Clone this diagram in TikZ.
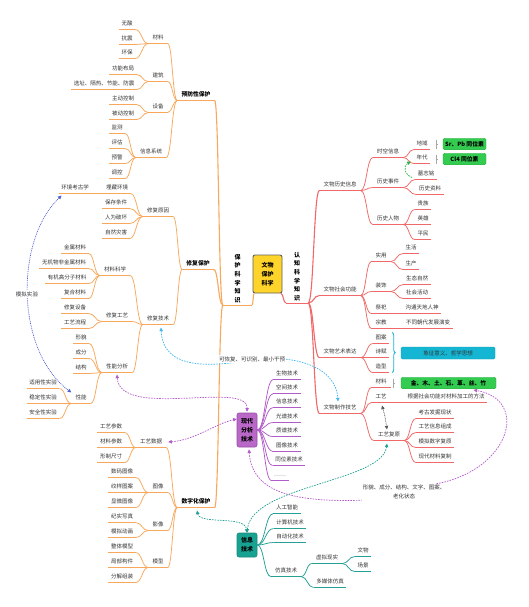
\documentclass[tikz,border=0pt]{standalone}
\usepackage{fontspec}
\setmainfont{Noto Sans CJK SC}
\usetikzlibrary{arrows.meta,calc,decorations.pathreplacing}
\newcommand\fsn{\fontsize{5.5pt}{6.5pt}\selectfont}
\newcommand\fsb{\fontsize{5.8pt}{7pt}\selectfont\bfseries}
\newcommand\fsv{\fontsize{6pt}{8.6pt}\selectfont\bfseries}
\newcommand\lk[3]{\draw[#1] let \p1=(#2), \p2=(#3) in (\p1) .. controls ({0.5*\x1+0.5*\x2},\y1) and ({0.5*\x1+0.5*\x2},\y2) .. (\p2);}
\definecolor{oc}{RGB}{248,168,92}
\definecolor{rc}{RGB}{240,104,104}
\definecolor{pc}{RGB}{178,92,200}
\definecolor{pfill}{RGB}{186,104,200}
\definecolor{tc}{RGB}{36,160,148}
\definecolor{tfill}{RGB}{24,162,146}
\definecolor{gfill}{RGB}{52,204,80}
\definecolor{cfill}{RGB}{20,182,212}
\definecolor{yfill}{RGB}{255,212,42}
\definecolor{txt}{RGB}{51,51,51}
\definecolor{ic}{RGB}{80,96,208}
\definecolor{lb}{RGB}{64,184,240}
\definecolor{gc}{RGB}{40,180,70}
\definecolor{graytwo}{RGB}{90,90,90}
\begin{document}
\begin{tikzpicture}[x=1pt,y=-1pt,
  t/.style={font=\fsn,text=txt,inner xsep=2.5pt,inner ysep=2.6pt,text height=4.6pt,text depth=0.9pt},
  ol/.style={draw=oc,line width=0.75pt},
  rl/.style={draw=rc,line width=0.75pt},
  pl/.style={draw=pc,line width=0.75pt},
  tl/.style={draw=tc,line width=0.75pt},
  uo/.style={append after command={(\tikzlastnode.south west) edge[ol] (\tikzlastnode.south east)}},
  ur/.style={append after command={(\tikzlastnode.south west) edge[rl] (\tikzlastnode.south east)}},
  up/.style={append after command={(\tikzlastnode.south west) edge[pl] (\tikzlastnode.south east)}},
  ut/.style={append after command={(\tikzlastnode.south west) edge[tl] (\tikzlastnode.south east)}},
  O/.style={t,uo}, OB/.style={t,inner xsep=4pt,uo}, OH/.style={t,font=\fsb,text=black,inner xsep=4pt,uo},
  R/.style={t,ur}, RB/.style={t,inner xsep=4pt,ur},
  PL/.style={t,up}, TL/.style={t,ut}, TB/.style={t,inner xsep=4pt,ut},
  vt/.style={font=\fsv,text=black,align=center,inner xsep=3pt,inner ysep=2pt},
  tbox/.style={font=\fontsize{6pt}{9pt}\selectfont\bfseries,text=black,align=center,rounded corners=2pt,inner sep=0pt,line width=0.6pt},
  gbox/.style={fill=gfill,draw=gfill!85!black,rounded corners=1.5pt,font=\fsb,text=black,inner sep=0pt,minimum height=11.5pt},
  lab/.style={font=\fsn,text=txt,inner sep=1pt},
  rel/.style={line width=0.7pt,dash pattern=on 1.6pt off 1.1pt,>={Triangle[length=3.6pt,width=3.4pt]}},
  brk/.style={draw=gray!70,line width=0.6pt}
]
\fill[white] (0,0) rectangle (528,607);
\useasboundingbox (0,0) rectangle (528,607);

% ---------- root and trunks ----------
\node[tbox,fill=yfill,draw=gray!75!black,line width=0.9pt,minimum width=29pt,minimum height=38pt] (RT) at (267.5,274) {文物\\保护\\科学};
\node[vt,uo,minimum width=29pt,anchor=south] (L) at (237.5,305) {保\\护\\科\\学\\知\\识};
\node[vt,ur,minimum width=22pt,anchor=south] (K) at (297,303) {认\\知\\科\\学\\知\\识};

% ---------- preventive ----------
\node[OH] (P1) at (196,95) {预防性保护};
\node[OB] (a1) at (158,38) {材料};
\node[O] (a11) at (127,24) {无酸};
\node[O] (a12) at (127,39) {抗震};
\node[O] (a13) at (127,53) {环保};
\node[OB] (a2) at (158,76) {建筑};
\node[O] (a21) at (123,69) {功能布局};
\node[O] (a22) at (104,84) {选址、隔热、节能、防震};
\node[OB] (a3) at (158,107) {设备};
\node[O] (a31) at (123,99) {主动控制};
\node[O] (a32) at (123,114) {被动控制};
\node[OB] (a4) at (151,152) {信息系统};
\node[O] (a41) at (117,128) {监测};
\node[O] (a42) at (117,143) {评估};
\node[O] (a43) at (117,158) {预警};
\node[O] (a44) at (117,173) {调控};

% ---------- restoration ----------
\node[OH] (P2) at (198,264) {修复保护};
\node[OB] (b1) at (158,211) {修复原因};
\node[O] (b11) at (117,188) {埋藏环境};
\node[O] (b111) at (75,188) {环境考古学};
\node[O] (b12) at (116,203) {保存条件};
\node[O] (b13) at (116,218) {人为破坏};
\node[O] (b14) at (116,233) {自然灾害};
\node[OB] (b2) at (158,319) {修复技术};
\node[OB] (b21) at (115,270) {材料科学};
\node[O] (b211) at (75,248) {金属材料};
\node[O] (b212) at (64,263) {无机物非金属材料};
\node[O] (b213) at (67,278) {有机高分子材料};
\node[O] (b214) at (75,293) {复合材料};
\node[OB] (b22) at (117,316) {修复工艺};
\node[O] (b221) at (75,308) {修复设备};
\node[O] (b222) at (75,323) {工艺流程};
\node[OB] (b23) at (117,367) {性能分析};
\node[O] (b231) at (81,338) {形貌};
\node[O] (b232) at (81,353) {成分};
\node[O] (b233) at (81,368) {结构};
\node[OB] (b234) at (81,398) {性能};
\node[O] (b2341) at (43,383) {适用性实验};
\node[O] (b2342) at (43,398) {稳定性实验};
\node[O] (b2343) at (43,413) {安全性实验};

% ---------- digital ----------
\node[OH] (P3) at (196,502) {数字化保护};
\node[OB] (c1) at (151,442) {工艺数据};
\node[O] (c11) at (111,427) {工艺参数};
\node[O] (c12) at (111,442) {材料参数};
\node[O] (c13) at (111,457) {形制尺寸};
\node[OB] (c2) at (158,487) {图像};
\node[O] (c21) at (122,472) {数码图像};
\node[O] (c22) at (122,487) {纹样图案};
\node[O] (c23) at (122,502) {显微图像};
\node[OB] (c3) at (158,525) {影像};
\node[O] (c31) at (122,517) {纪实写真};
\node[O] (c32) at (122,532) {模拟动画};
\node[OB] (c4) at (158,562) {模型};
\node[O] (c41) at (122,547) {整体模型};
\node[O] (c42) at (122,562) {局部构件};
\node[O] (c43) at (122,577) {分解组装};

% ---------- right side ----------
\node[RB] (d1) at (340,185) {文物历史信息};
\node[RB] (e1) at (388,152) {时空信息};
\node[R] (f1) at (422,144) {地域};
\node[R] (f2) at (422,158) {年代};
\node[RB] (e2) at (388,182) {历史事件};
\node[R] (f3) at (426,174) {墓志铭};
\node[R] (f4) at (430,189) {历史资料};
\node[RB] (e3) at (388,219) {历史人物};
\node[R] (f5) at (423,204) {贵族};
\node[R] (f6) at (423,219) {英雄};
\node[R] (f7) at (423,234) {平民};
\node[RB] (d2) at (340,290) {文物社会功能};
\node[RB] (e4) at (381,256) {实用};
\node[R] (f8) at (411,248) {生活};
\node[R] (f9) at (411,264) {生产};
\node[RB] (e5) at (381,286) {装饰};
\node[R] (f10) at (417,279) {生态自然};
\node[R] (f11) at (417,293) {社会活动};
\node[RB] (e6) at (381,308) {祭祀};
\node[R] (f12) at (422,308) {沟通天地人神};
\node[RB] (e7) at (381,323) {宗教};
\node[R] (f13) at (428,323) {不同朝代发展演变};
\node[RB] (d3) at (340,352) {文物艺术表达};
\node[R] (e8) at (381,338) {图案};
\node[R] (e9) at (381,352) {诗赋};
\node[R] (e10) at (381,367) {造型};
\node[RB] (d4) at (340,408) {文物制作技艺};
\node[RB] (e11) at (381,382) {材料};
\node[RB] (e12) at (381,397) {工艺};
\node[R] (f14) at (446,397) {根据社会功能对材料加工的方法};
\node[RB] (e13) at (389,435) {工艺复原};
\node[R] (f15) at (435,413) {考古发掘现状};
\node[R] (f16) at (435,427) {工艺信息组成};
\node[R] (f17) at (435,442) {模拟数字复原};
\node[R] (f18) at (435,457) {现代材料复制};

\node[gbox,minimum width=43pt] (g1) at (464.5,144) {Sr、Pb 同位素};
\node[gbox,minimum width=43pt] (g2) at (464.5,159) {Cl4 同位素};
\node[gbox,minimum width=95pt] (g3) at (448.5,383) {金、木、土、石、革、丝、竹};
\node[gbox,fill=cfill,draw=cfill!85!black,font=\fsn,text=txt,minimum width=94pt,minimum height=12pt] (cy) at (448,353) {象征意义、哲学思想};
\foreach \bx in {g1,g2} {\draw[brk] ([shift={(-7,-4.5)}]\bx.west) -- ([shift={(-7,4.5)}]\bx.west) ([shift={(-7,0)}]\bx.west) -- ([shift={(-4.5,0)}]\bx.west);}
\draw[brk] ([shift={(-8,-4.5)}]g3.west) -- ([shift={(-8,4.5)}]g3.west) ([shift={(-8,0)}]g3.west) -- ([shift={(-5.5,0)}]g3.west);
\draw[draw=cfill,line width=0.8pt,decorate,decoration={brace,amplitude=3pt}] ([xshift=3pt]e8.north east) -- ([xshift=3pt]e10.south east);

% ---------- analysis / info boxes ----------
\node[tbox,fill=pfill,draw=pc!85!black,minimum width=20pt,minimum height=34pt] (M) at (247,430) {现代\\分析\\技术};
\node[PL] (m1) at (287,374) {生物技术};
\node[PL] (m2) at (287,388) {空间技术};
\node[PL] (m3) at (287,402) {信息技术};
\node[PL] (m4) at (287,417) {光谱技术};
\node[PL] (m5) at (287,431) {质谱技术};
\node[PL] (m6) at (287,446) {图像技术};
\node[PL] (m7) at (289,460) {同位素技术};
\node[PL] (m8) at (280,475) {……};
\node[tbox,fill=tfill,draw=tc!85!black,minimum width=20pt,minimum height=24pt] (I) at (247,545) {信息\\技术};
\node[TL] (i1) at (287,508) {人工智能};
\node[TL] (i2) at (290,523) {计算机技术};
\node[TL] (i3) at (290,537) {自动化技术};
\node[TB] (i4) at (286,571) {仿真技术};
\node[TB] (i41) at (327,558) {虚拟现实};
\node[TL] (i411) at (363,551) {文物};
\node[TL] (i412) at (363,566) {场景};
\node[TL] (i42) at (330,582) {多媒体仿真};

% ---------- branch lines ----------
\lk{ol,line width=1.1pt}{[xshift=1.5pt]RT.south west}{L.south east}
\lk{rl,line width=1.1pt}{[xshift=-1.5pt]RT.south east}{K.south west}
\foreach \cc in {P1,P2,P3} {\lk{ol,line width=1.1pt}{L.south west}{\cc.south east}}
\foreach \pp/\cc in {P1/a1,P1/a2,P1/a3,P1/a4,a1/a11,a1/a12,a1/a13,a2/a21,a2/a22,a3/a31,a3/a32,a4/a41,a4/a42,a4/a43,a4/a44,
  P2/b1,P2/b2,b1/b11,b1/b12,b1/b13,b1/b14,b11/b111,b2/b21,b2/b22,b2/b23,b21/b211,b21/b212,b21/b213,b21/b214,b22/b221,b22/b222,
  b23/b231,b23/b232,b23/b233,b23/b234,b234/b2341,b234/b2342,b234/b2343,
  P3/c1,P3/c2,P3/c3,P3/c4,c1/c11,c1/c12,c1/c13,c2/c21,c2/c22,c2/c23,c3/c31,c3/c32,c4/c41,c4/c42,c4/c43}
  {\lk{ol}{\pp.south west}{\cc.south east}}
\foreach \cc in {d1,d2,d3,d4} {\lk{rl,line width=1.1pt}{K.south east}{\cc.south west}}
\foreach \pp/\cc in {d1/e1,d1/e2,d1/e3,e1/f1,e1/f2,e2/f3,e2/f4,e3/f5,e3/f6,e3/f7,
  d2/e4,d2/e5,d2/e6,d2/e7,e4/f8,e4/f9,e5/f10,e5/f11,e6/f12,e7/f13,
  d3/e8,d3/e9,d3/e10,d4/e11,d4/e12,d4/e13,e12/f14,e13/f15,e13/f16,e13/f17,e13/f18}
  {\lk{rl}{\pp.south east}{\cc.south west}}
\foreach \cc in {m1,m2,m3,m4,m5,m6,m7,m8} {\lk{pl}{M.east}{\cc.south west}}
\foreach \cc in {i1,i2,i3,i4} {\lk{tl}{I.east}{\cc.south west}}
\foreach \pp/\cc in {i4/i41,i4/i42,i41/i411,i41/i412} {\lk{tl}{\pp.south east}{\cc.south west}}

% ---------- relations ----------
\draw[rel,draw=ic,dash pattern=on 0.9pt off 0.9pt,<->] ([shift={(3,2)}]b111.south west) .. controls (15,240) and (15,350) .. (b234.north west);
\node[lab,fill=white] (L3) at (27,294) {模拟实验};

\coordinate (L1c) at (252,360);
\draw[rel,draw=lb,<->] ([shift={(3,3)}]b2.south) .. controls (163,372) and (215,366) .. (L1c) .. controls (290,354) and (336,365) .. ([shift={(-2,-1)}]d4.north);
\node[lab,fill=white] (L1) at ([shift={(0,-1)}]L1c) {可恢复、可识别、最小干预};

\draw[rel,draw=pc,<->] ([shift={(0,2)}]b23.south) .. controls (120,420) and (248,380) .. ([shift={(0,-1)}]M.north);
\draw[rel,draw=pc,<->] ([shift={(2,0)}]c1.east) .. controls (195,440) and (215,424) .. ([shift={(0,-11)}]M.west);

\node[lab,align=center,font=\fontsize{5.5pt}{9pt}\selectfont] (L2) at (404,492) {形貌、成分、结构、文字、图案、\\老化状态};
\draw[rel,draw=pc,<-] ([shift={(2,2)}]M.south) .. controls (252,495) and (300,502) .. (L2.south west);
\draw[rel,draw=pc,->] ([shift={(-10,0)}]L2.north east) .. controls (510,470) and (530,400) .. ([shift={(25,1)}]g3.south);

\draw[rel,draw=tc,<->] ([shift={(1,3)}]P3.south) .. controls (200,525) and (245,515) .. (I.north);
\draw[rel,draw=tc,<->] (I.north) .. controls (252,485) and (382,482) .. ([shift={(-2,3)}]e13.south);

\draw[rel,draw=gc,->] ([shift={(-3,-2)}]f3.south west) .. controls (404,174) and (403,166) .. ([shift={(-3,-2)}]f2.south west);
\draw[rel,draw=graytwo,dash pattern=on 0.8pt off 0.8pt,<->] ([shift={(1,3)}]e12.south) .. controls (385,416) .. ([shift={(-2,0)}]e13.north);
\end{tikzpicture}
\end{document}
